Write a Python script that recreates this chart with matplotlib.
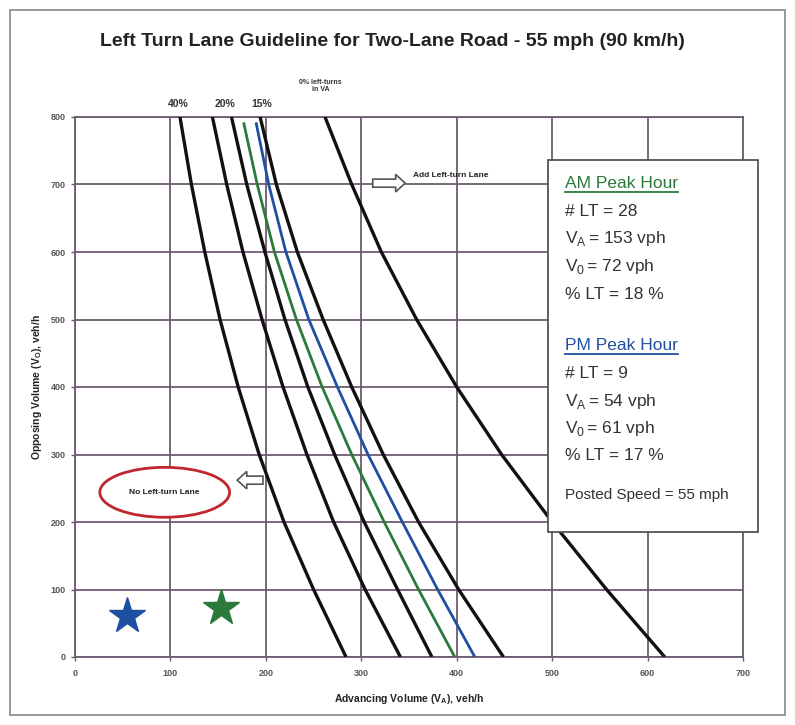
import matplotlib
matplotlib.use("Agg")
import matplotlib.pyplot as plt
from matplotlib.patches import Ellipse, FancyArrow, Rectangle

# ---------------- data ----------------
title = "Left Turn Lane Guideline for Two-Lane Road - 55 mph (90 km/h)"
opposing = [800, 700, 600, 500, 400, 300, 200, 100, 0]
curve_40 = [110, 122, 136, 152, 171, 193, 219, 250, 284]
curve_30 = [144, 159, 176, 196, 218, 243, 271, 304, 341]
curve_20 = [164, 180, 199, 220, 244, 272, 303, 338, 374]
curve_15 = [194, 211, 233, 260, 290, 323, 360, 402, 449]
curve_0 = [262, 290, 321, 358, 400, 447, 500, 557, 618]
opposing_site = [790, 700, 600, 500, 400, 300, 200, 100, 0]
curve_am = [177, 191, 209, 232, 259, 290, 324, 360, 398]
curve_pm = [190, 203, 221, 245, 275, 307, 343, 380, 419]
am_point = (153, 72)
pm_point = (54, 61)
x_ticks = [0, 100, 200, 300, 400, 500, 600, 700]
y_ticks = [0, 100, 200, 300, 400, 500, 600, 700, 800]
curve_labels = ["40%", "20%", "15%"]
curve_label_x = [108, 157, 196]

W, H = 795, 725
fig = plt.figure(figsize=(W / 100, H / 100), dpi=100)
fig.patch.set_facecolor("white")

# outer frame
fig.patches.append(Rectangle((10 / W, 10 / H), 775 / W, 705 / H, transform=fig.transFigure,
                             fill=False, edgecolor="#888888", lw=1.2))

ax = fig.add_axes([75 / W, (H - 657) / H, 668 / W, 540 / H])
ax.set_xlim(0, 700)
ax.set_ylim(0, 800)
grid_c = "#6e5a72"
ax.set_xticks(x_ticks)
ax.set_yticks(y_ticks)
ax.grid(True, color=grid_c, lw=1.3)
for s in ax.spines.values():
    s.set_color(grid_c)
    s.set_linewidth(1.3)
ax.tick_params(axis="both", colors=grid_c, length=3, width=1, labelsize=6.5, labelcolor="#555555")
for lab in ax.get_xticklabels() + ax.get_yticklabels():
    lab.set_fontweight("bold")
    lab.set_family("Liberation Sans")
ax.tick_params(axis="x", pad=6)

black_lw = 2.4
for cv in [curve_40, curve_30, curve_20, curve_15, curve_0]:
    ax.plot(cv, opposing, color="#111111", lw=black_lw, solid_capstyle="butt",
            solid_joinstyle="round", zorder=3)
ax.plot(curve_am, opposing_site, color="#2b7a3c", lw=2.0, solid_joinstyle="round", zorder=3)
ax.plot(curve_pm, opposing_site, color="#1f4fa0", lw=2.0, solid_joinstyle="round", zorder=3)

ax.plot(*pm_point, marker="*", color="#1f4fa0", markersize=27, ls="none", zorder=4)
ax.plot(*am_point, marker="*", color="#2b7a3c", markersize=27, ls="none", zorder=4)

# curve labels above axes
for lab, xv in zip(curve_labels, curve_label_x):
    ax.text(xv, 812, lab, ha="center", va="bottom", fontsize=7.5, fontweight="bold",
            family="Liberation Sans", color="#333333", clip_on=False)
ax.text(257, 836, "0% left-turns\nin VA", ha="center", va="bottom", fontsize=5,
        fontweight="bold", family="Liberation Sans", color="#333333", clip_on=False,
        linespacing=1.0)

# Add left-turn lane arrow
ax.add_patch(FancyArrow(312, 702, 24, 0, width=12, head_width=26, head_length=10,
                        length_includes_head=False, facecolor="white", edgecolor="#555555",
                        lw=1.2, zorder=5))
ax.text(354, 714, "Add Left-turn Lane", fontsize=6, fontweight="bold", family="Liberation Sans",
        color="#222222", va="center", ha="left", zorder=5)

# No left-turn lane ellipse + arrow
ax.add_patch(Ellipse((94, 244), 136, 74, fill=True, facecolor="white", edgecolor="#c0262d",
                     lw=2.0, zorder=5))
ax.text(94, 244, "No Left-turn Lane", fontsize=6, fontweight="bold", family="Liberation Sans",
        color="#222222", va="center", ha="center", zorder=6)
ax.add_patch(FancyArrow(197, 262, -17, 0, width=12, head_width=26, head_length=10,
                        length_includes_head=False, facecolor="white", edgecolor="#555555",
                        lw=1.2, zorder=5))

ax.set_xlabel("Advancing Volume (V$_\\mathregular{A}$), veh/h", fontsize=7.5, fontweight="bold",
              family="Liberation Sans", color="#222222", labelpad=10)
ax.set_ylabel("Opposing Volume (V$_\\mathregular{O}$), veh/h", fontsize=7.5, fontweight="bold",
              family="Liberation Sans", color="#222222", labelpad=5)

fig.text(392 / W, 1 - 42 / H, title, ha="center", va="center", fontsize=14, fontweight="bold",
         family="Liberation Sans", color="#222222")

# info box
bx0, by0, bx1, by1 = 548, 160, 758, 532
fig.patches.append(Rectangle((bx0 / W, 1 - by1 / H), (bx1 - bx0) / W, (by1 - by0) / H,
                             transform=fig.transFigure, facecolor="white", edgecolor="#555555",
                             lw=1.3, zorder=10))
fam = ["Liberation Sans Narrow", "Liberation Sans"]
fs = 12.5
lines = [
    (183, "AM Peak Hour", "#2b7a3c", True),
    (211, "# LT = 28", "#333333", False),
    (239, "V$_\\mathregular{A}\\,$= 153 vph", "#333333", False),
    (267, "V$_\\mathregular{0}\\,$= 72 vph", "#333333", False),
    (295, "% LT = 18 %", "#333333", False),
    (345, "PM Peak Hour", "#1f4fa0", True),
    (373, "# LT = 9", "#333333", False),
    (401, "V$_\\mathregular{A}\\,$= 54 vph", "#333333", False),
    (428, "V$_\\mathregular{0}\\,$= 61 vph", "#333333", False),
    (456, "% LT = 17 %", "#333333", False),
]
for py, txt, col, ul in lines:
    t = fig.text(565 / W, 1 - py / H, txt, ha="left", va="center", fontsize=fs, family=fam,
                 color=col, zorder=11)
    if ul:
        fig.canvas.draw()
        bb = t.get_window_extent()
        fig.lines.append(plt.Line2D([bb.x0 / W, bb.x1 / W], [(bb.y0 - 1) / H, (bb.y0 - 1) / H],
                                    transform=fig.transFigure, color=col, lw=1.3, zorder=11))
fig.text(565 / W, 1 - 495 / H, "Posted Speed = 55 mph", ha="left", va="center", fontsize=11,
         family=fam, color="#333333", zorder=11)

fig.savefig("out.png", dpi=100, facecolor="white")
